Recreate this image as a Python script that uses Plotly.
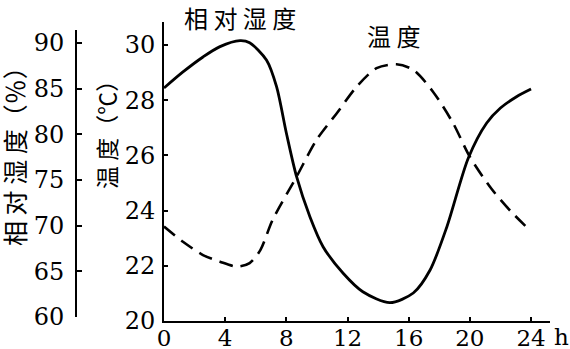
import plotly.graph_objects as go

# hours of the day
hours_rh = [0, 1.24, 2.55, 3.66, 4.97, 5.6, 6.7, 7.36, 8.0, 8.67, 9.54, 10.4,
            11.7, 13.0, 14.77, 16.3, 17.4, 18.5, 19.9, 21.1, 22.0, 23.05, 24.0]
# relative humidity (%)
rel_humidity = [85.07, 86.83, 88.47, 89.6, 90.25, 90.03, 88.14, 85.22, 80.15, 75.36,
                70.98, 67.7, 64.82, 62.77, 61.57, 62.63, 65.15, 69.89, 77.41, 81.24,
                82.88, 84.12, 84.96]

hours_t = [0, 1.24, 2.55, 3.66, 4.8, 5.6, 6.3, 7.1, 8.67, 9.97, 11.3, 12.6,
           13.9, 15.2, 16.3, 17.6, 18.9, 20.0, 21.4, 22.7, 23.9]
# temperature (deg C)
temperature = [23.42, 22.87, 22.39, 22.15, 21.97, 22.1, 22.57, 23.66, 25.23, 26.56,
               27.53, 28.49, 29.16, 29.3, 29.1, 28.3, 27.17, 25.95, 24.8, 23.96, 23.3]

x_ticks = [0, 4, 8, 12, 16, 20, 24]
t_ticks = [20, 22, 24, 26, 28, 30]
rh_ticks = [60, 65, 70, 75, 80, 85, 90]

W, H = 570, 349
serif = dict(family="DejaVu Serif", size=24, color="black")
cjk = "Noto Sans CJK SC"

fig = go.Figure()
fig.add_trace(go.Scatter(x=hours_t, y=temperature, mode="lines",
                         line=dict(color="black", width=2.6, dash="14px,8px", shape="spline", smoothing=0.8),
                         xaxis="x", yaxis="y", showlegend=False))
fig.add_trace(go.Scatter(x=hours_rh, y=rel_humidity, mode="lines",
                         line=dict(color="black", width=2.8, shape="spline", smoothing=0.8),
                         xaxis="x2", yaxis="y2", showlegend=False))

xdom = [164 / W, 550 / W]
xrange_ = [0, 25.24]
axis_common = dict(showgrid=False, zeroline=False, showline=True, linecolor="black",
                   linewidth=2, ticks="inside", tickcolor="black", tickwidth=2,
                   automargin=False)

fig.update_layout(
    width=W, height=H, autosize=False,
    margin=dict(l=0, r=0, t=0, b=0, pad=0),
    paper_bgcolor="white", plot_bgcolor="rgba(0,0,0,0)",
    font=dict(family="DejaVu Serif", color="black"),
    xaxis=dict(domain=xdom, range=xrange_, tickvals=x_ticks, anchor="y", ticklen=4,
               ticklabelstandoff=-5, tickfont=dict(family="DejaVu Serif", size=23, color="black"),
               **axis_common),
    yaxis=dict(domain=[(H - 321) / H, (H - 22) / H], range=[20, 30 + 23 / 27.6],
               tickvals=t_ticks, anchor="x", ticklen=4, ticklabelstandoff=2, tickfont=serif,
               **axis_common),
    xaxis2=dict(domain=xdom, range=xrange_, anchor="y2", visible=False, automargin=False),
    yaxis2=dict(domain=[(H - 317) / H, (H - 30) / H], range=[60, 90 + 13 / 9.133],
                tickvals=rh_ticks, anchor="free", position=76 / W, ticklen=5,
                ticklabelstandoff=6, tickfont=serif, **axis_common),
)

ann = [
    dict(text="相 对 湿 度（％）", x=14, y=150, textangle=-90, size=25),
    dict(text="温 度（℃）", x=106, y=129, textangle=-90, size=23),
    dict(text="相 对 湿 度", x=240, y=17, textangle=0, size=24),
    dict(text="温 度", x=393, y=35, textangle=0, size=24),
]
for a in ann:
    fig.add_annotation(text=a["text"], x=a["x"] / W, y=1 - a["y"] / H, xref="paper", yref="paper",
                       showarrow=False, textangle=a["textangle"], xanchor="center", yanchor="middle",
                       font=dict(family=cjk, size=a["size"], color="black"))
fig.add_annotation(text="h", x=561 / W, y=1 - 337 / H, xref="paper", yref="paper",
                   showarrow=False, xanchor="center", yanchor="middle",
                   font=dict(family="DejaVu Serif", size=23, color="black"))

fig.write_html("out.html")
